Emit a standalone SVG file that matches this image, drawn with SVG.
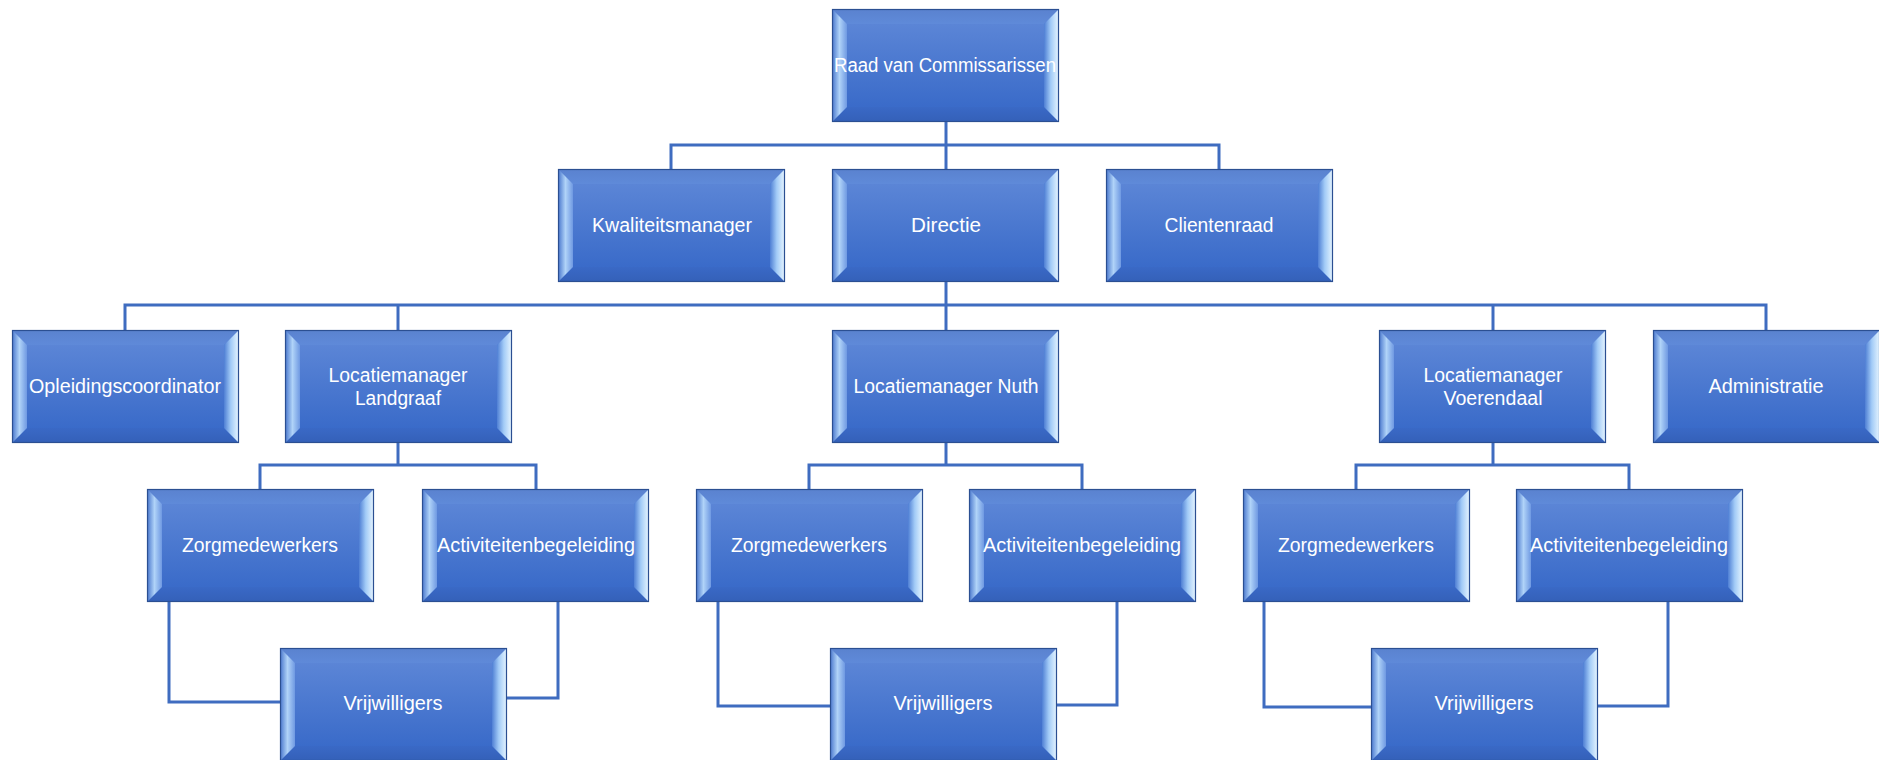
<svg xmlns="http://www.w3.org/2000/svg" xmlns:xlink="http://www.w3.org/1999/xlink" width="1879" height="760" viewBox="0 0 1879 760">
<style>
.t{font-family:"Liberation Sans",Arial,sans-serif;font-size:19.6px;fill:#ffffff;text-anchor:middle}
.c{fill:none;stroke:#3f6cc0;stroke-width:3;stroke-linejoin:miter}
</style>
<defs>
<linearGradient id="face" x1="0" y1="0" x2="0" y2="1">
<stop offset="0" stop-color="#5b85d6"/>
<stop offset="1" stop-color="#3a6bc9"/>
</linearGradient>
<linearGradient id="topb" x1="0" y1="0" x2="0" y2="1">
<stop offset="0" stop-color="#5a82cf"/>
<stop offset="1" stop-color="#5f8ad9"/>
</linearGradient>
<linearGradient id="botb" x1="0" y1="0" x2="0" y2="1">
<stop offset="0" stop-color="#3a69c6"/>
<stop offset="1" stop-color="#3460b8"/>
</linearGradient>
<linearGradient id="leftb" x1="0" y1="0" x2="1" y2="0">
<stop offset="0" stop-color="#4674cc"/>
<stop offset="0.5" stop-color="#b0d3f8"/>
<stop offset="1" stop-color="#6f99e2"/>
</linearGradient>
<linearGradient id="rightb" x1="0" y1="0" x2="1" y2="0">
<stop offset="0" stop-color="#4f7fd4"/>
<stop offset="0.45" stop-color="#a2cbf7"/>
<stop offset="1" stop-color="#eaf7ff"/>
</linearGradient>
<g id="box">
<rect x="0" y="0" width="227" height="113" fill="url(#face)"/>
<polygon points="0,0 227,0 212,15 15,15" fill="url(#topb)"/>
<polygon points="0,113 15,98 212,98 227,113" fill="url(#botb)"/>
<polygon points="0,0 15,15 15,98 0,113" fill="url(#leftb)"/>
<polygon points="227,0 227,113 212,98 212,15" fill="url(#rightb)"/>
<rect x="15" y="15" width="197" height="83" fill="url(#face)"/>
<rect x="0.5" y="0.5" width="226" height="112" fill="none" stroke="#2b4f92" stroke-width="1.2"/>
</g>
</defs>
<rect width="1879" height="760" fill="#ffffff"/>
<g id="connectors">
<path class="c" d="M946,121 V169"/>
<path class="c" d="M671,169 V145 H1219 V169"/>
<path class="c" d="M946,282 V330"/>
<path class="c" d="M125,330 V305 H1766 V330"/>
<path class="c" d="M398,305 V330"/>
<path class="c" d="M1493,305 V330"/>
<path class="c" d="M398,443 V465"/>
<path class="c" d="M260,489 V465 H536 V489"/>
<path class="c" d="M946,443 V465"/>
<path class="c" d="M809,489 V465 H1082 V489"/>
<path class="c" d="M1493,443 V465"/>
<path class="c" d="M1356,489 V465 H1629 V489"/>
<path class="c" d="M169,602 V702 H280"/>
<path class="c" d="M558,602 V698 H507"/>
<path class="c" d="M718,602 V706 H830"/>
<path class="c" d="M1117,602 V705 H1057"/>
<path class="c" d="M1264,602 V707 H1371"/>
<path class="c" d="M1668,602 V706 H1598"/>
</g>
<g id="raad"><use xlink:href="#box" x="832" y="9"/><text class="t" x="945" y="72" textLength="222" lengthAdjust="spacingAndGlyphs">Raad van Commissarissen</text></g>
<g id="kwaliteitsmanager"><use xlink:href="#box" x="558" y="169"/><text class="t" x="672" y="232" textLength="160" lengthAdjust="spacingAndGlyphs">Kwaliteitsmanager</text></g>
<g id="directie"><use xlink:href="#box" x="832" y="169"/><text class="t" x="946" y="232" textLength="70" lengthAdjust="spacingAndGlyphs">Directie</text></g>
<g id="clientenraad"><use xlink:href="#box" x="1106" y="169"/><text class="t" x="1219" y="232" textLength="109" lengthAdjust="spacingAndGlyphs">Clientenraad</text></g>
<g id="opleidingscoordinator"><use xlink:href="#box" x="12" y="330"/><text class="t" x="125" y="393" textLength="192" lengthAdjust="spacingAndGlyphs">Opleidingscoordinator</text></g>
<g id="lm-landgraaf"><use xlink:href="#box" x="285" y="330"/><text class="t" x="398" y="382" textLength="139" lengthAdjust="spacingAndGlyphs">Locatiemanager</text><text class="t" x="398" y="405" textLength="86" lengthAdjust="spacingAndGlyphs">Landgraaf</text></g>
<g id="lm-nuth"><use xlink:href="#box" x="832" y="330"/><text class="t" x="946" y="393" textLength="185" lengthAdjust="spacingAndGlyphs">Locatiemanager Nuth</text></g>
<g id="lm-voerendaal"><use xlink:href="#box" x="1379" y="330"/><text class="t" x="1493" y="382" textLength="139" lengthAdjust="spacingAndGlyphs">Locatiemanager</text><text class="t" x="1493" y="405" textLength="99" lengthAdjust="spacingAndGlyphs">Voerendaal</text></g>
<g id="administratie"><use xlink:href="#box" x="1653" y="330"/><text class="t" x="1766" y="393" textLength="115" lengthAdjust="spacingAndGlyphs">Administratie</text></g>
<g id="zorg-landgraaf"><use xlink:href="#box" x="147" y="489"/><text class="t" x="260" y="552" textLength="156" lengthAdjust="spacingAndGlyphs">Zorgmedewerkers</text></g>
<g id="activ-landgraaf"><use xlink:href="#box" x="422" y="489"/><text class="t" x="536" y="552" textLength="198" lengthAdjust="spacingAndGlyphs">Activiteitenbegeleiding</text></g>
<g id="zorg-nuth"><use xlink:href="#box" x="696" y="489"/><text class="t" x="809" y="552" textLength="156" lengthAdjust="spacingAndGlyphs">Zorgmedewerkers</text></g>
<g id="activ-nuth"><use xlink:href="#box" x="969" y="489"/><text class="t" x="1082" y="552" textLength="198" lengthAdjust="spacingAndGlyphs">Activiteitenbegeleiding</text></g>
<g id="zorg-voerendaal"><use xlink:href="#box" x="1243" y="489"/><text class="t" x="1356" y="552" textLength="156" lengthAdjust="spacingAndGlyphs">Zorgmedewerkers</text></g>
<g id="activ-voerendaal"><use xlink:href="#box" x="1516" y="489"/><text class="t" x="1629" y="552" textLength="198" lengthAdjust="spacingAndGlyphs">Activiteitenbegeleiding</text></g>
<g id="vrij-landgraaf"><use xlink:href="#box" x="280" y="648"/><text class="t" x="393" y="710" textLength="99" lengthAdjust="spacingAndGlyphs">Vrijwilligers</text></g>
<g id="vrij-nuth"><use xlink:href="#box" x="830" y="648"/><text class="t" x="943" y="710" textLength="99" lengthAdjust="spacingAndGlyphs">Vrijwilligers</text></g>
<g id="vrij-voerendaal"><use xlink:href="#box" x="1371" y="648"/><text class="t" x="1484" y="710" textLength="99" lengthAdjust="spacingAndGlyphs">Vrijwilligers</text></g>
</svg>
